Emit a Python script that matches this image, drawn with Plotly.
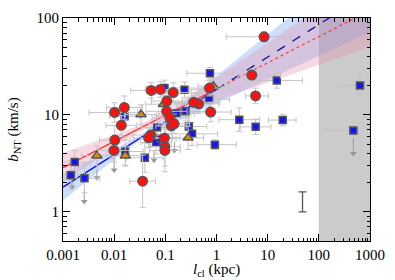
import numpy as np
import plotly.graph_objects as go

# ---------------- data ----------------
red_x = [0.0102, 0.0158, 0.0138, 0.0103, 0.0099, 0.053, 0.080, 0.143, 0.107, 0.106,
         0.123, 0.131, 0.148, 0.052, 0.047, 0.096, 0.098, 0.098, 0.036, 8.5,
         4.9, 5.8, 0.73, 0.447, 0.77, 0.359]
red_y = [10.6, 11.9, 7.8, 5.5, 4.3, 17.9, 18.3, 17.0, 13.9, 10.9,
         9.35, 7.7, 8.1, 6.2, 5.8, 5.75, 4.7, 4.3, 2.07, 64,
         25.8, 15.7, 18.9, 13.0, 10.7, 13.5]
red_xlo = [0.5, 0.35, 0.3, 0.3, 0.3, 0.4, 0.3, 0.35, 0.3, 0.4,
           0.35, 0.3, 0.3, 0.35, 0.3, 0.3, 0.3, 0.3, 0.25, 0.74,
           0.27, 0.2, 0.4, 0.4, 0.4, 0.5]
red_xhi = [0.45, 0.35, 0.3, 0.3, 0.3, 0.4, 0.3, 0.35, 0.3, 0.4,
           0.35, 0.3, 0.3, 0.35, 0.3, 0.3, 0.3, 0.3, 0.25, 0.52,
           0.56, 0.25, 0.4, 0.4, 0.4, 0.5]
red_ye = [0.1, 0.12, 0.1, 0.15, 0.12, 0.08, 0.08, 0.1, 0.1, 0.12,
          0.12, 0.12, 0.1, 0.12, 0.1, 0.15, 0.2, 0.22, 0.27, 0.05,
          0.06, 0.08, 0.08, 0.1, 0.1, 0.1]

blue_x = [0.0017, 0.00142, 0.00263, 0.0165, 0.016, 0.0398, 0.096, 0.237, 0.745, 15.1,
          0.713, 2.79, 5.82, 19.7, 637, 473, 0.333, 0.93, 0.165, 0.248,
          0.288, 0.069, 0.066, 0.081]
blue_y = [3.26, 2.39, 2.22, 4.19, 9.7, 3.62, 19.0, 18.2, 26.9, 22.7,
          14.5, 8.93, 7.53, 8.85, 20.1, 6.89, 6.38, 4.93, 10.4, 10.9,
          7.6, 7.44, 5.2, 5.7]
blue_xlo = [0.3, 0.2, 0.3, 0.35, 0.3, 0.35, 0.35, 0.4, 0.45, 0.6,
            0.4, 0.4, 0.3, 0.28, 0.38, 0.52, 0.5, 0.35, 0.35, 0.4,
            0.35, 0.3, 0.3, 0.3]
blue_xhi = [0.3, 0.2, 0.3, 0.35, 0.3, 0.35, 0.35, 0.4, 0.45, 0.5,
            0.4, 0.4, 0.3, 0.26, 0.1, 0.1, 0.5, 0.42, 0.35, 0.4,
            0.35, 0.3, 0.3, 0.3]
blue_ye = [0.12, 0.15, 0.15, 0.15, 0.1, 0.15, 0.08, 0.08, 0.06, 0.08,
           0.1, 0.12, 0.08, 0.06, 0.1, 0.05, 0.12, 0.05, 0.1, 0.1,
           0.1, 0.12, 0.12, 0.12]

tri_x = [0.0046, 0.0165, 0.0334, 0.092, 0.279, 0.865]
tri_y = [3.8, 3.8, 10.1, 12.9, 5.8, 19.8]
tri_xe = [0.3, 0.3, 0.3, 0.35, 0.3, 0.3]
tri_ye = [0.1, 0.1, 0.1, 0.12, 0.12, 0.08]

# upper-limit arrows: x, top, bottom
lim_x = [0.0026, 0.0046, 0.0100, 0.0015, 0.060, 0.15, 473]
lim_top = [1.65, 2.75, 3.6, 2.2, 4.3, 5.3, 5.8]
lim_bot = [1.28, 2.25, 2.7, 1.8, 3.4, 4.3, 4.0]

# fits (endpoints) and confidence bands
fit_x_solid = [0.001, 1.0]
fit_x_ext = [1.0, 1000.0]
red_fit_solid = [2.86, 18.5]
red_fit_ext = [18.5, 120.0]
blue_fit_solid = [1.8, 18.3]
blue_fit_ext = [18.3, 185.0]

band_x = [0.001, 0.00316, 0.01, 0.0316, 0.1, 0.316, 1, 10, 100, 1000]
red_band_lo = [2.02, 3.04, 4.56, 6.74, 9.1, 11.4, 14.1, 21.6, 33.0, 50.3]
red_band_hi = [4.06, 5.02, 6.23, 7.85, 10.9, 16.2, 24.3, 55.2, 126, 287]
blue_band_lo = [1.31, 2.14, 3.47, 5.45, 7.52, 10.0, 13.3, 23.2, 40.7, 71.2]
blue_band_hi = [2.50, 3.32, 4.42, 6.10, 9.55, 15.5, 25.3, 67.6, 181, 483]

# representative error bar
rep_x = [48]
rep_y = [1.27]
rep_plus = [0.34]
rep_minus = [0.27]

shade_x = [100, 1000]

x_tickvals = [0.001, 0.01, 0.1, 1, 10, 100, 1000]
x_ticktext = ["0.001", "0.01", "0.1", "1", "10", "100", "1000"]
y_tickvals = [1, 10, 100]
y_ticktext = ["1", "10", "100"]

x_title = "<i>l</i><sub>cl</sub> (kpc)"
y_title = "<i>b</i><sub>NT</sub> (km/s)"

# ---------------- figure ----------------
def lin_err(v, lo, hi):
    v = np.asarray(v, float)
    return v * (10 ** np.asarray(hi) - 1), v * (1 - 10 ** (-np.asarray(lo)))

fig = go.Figure()

fig.add_shape(type="rect", xref="x", yref="paper", x0=shade_x[0], x1=shade_x[1], y0=0, y1=1,
              fillcolor="#cbcbcb", line_width=0, layer="below")

def band(lo, hi, color):
    fig.add_trace(go.Scatter(x=band_x + band_x[::-1], y=hi + lo[::-1], fill="toself",
                             fillcolor=color, line=dict(width=0), mode="lines",
                             hoverinfo="skip", showlegend=False))

band(blue_band_lo, blue_band_hi, "rgba(110,160,240,0.35)")
band(red_band_lo, red_band_hi, "rgba(235,140,170,0.33)")

fig.add_trace(go.Scatter(x=fit_x_solid, y=red_fit_solid, mode="lines",
                         line=dict(color="#ff2020", width=1.2), showlegend=False))
fig.add_trace(go.Scatter(x=fit_x_ext, y=red_fit_ext, mode="lines",
                         line=dict(color="#ff3030", width=1.1, dash="dot"), showlegend=False))
fig.add_trace(go.Scatter(x=fit_x_solid, y=blue_fit_solid, mode="lines",
                         line=dict(color="#1010e0", width=1.4), showlegend=False))
fig.add_trace(go.Scatter(x=fit_x_ext, y=blue_fit_ext, mode="lines",
                         line=dict(color="#1a1a90", width=1.4, dash="dash"), showlegend=False))

# upper limit arrows
seg_x, seg_y = [], []
for x, t, b in zip(lim_x, lim_top, lim_bot):
    seg_x += [x, x, None]
    seg_y += [t, b, None]
fig.add_trace(go.Scatter(x=seg_x, y=seg_y, mode="lines",
                         line=dict(color="#999999", width=1), showlegend=False))
fig.add_trace(go.Scatter(x=lim_x, y=lim_bot, mode="markers",
                         marker=dict(symbol="triangle-down", size=6, color="#999999"),
                         showlegend=False))

ebcol = "#c4c4c4"

def points(x, y, xlo, xhi, ye, symbol, size, color):
    xp, xm = lin_err(x, xlo, xhi)
    yp, ym = lin_err(y, ye, ye)
    fig.add_trace(go.Scatter(
        x=x, y=y, mode="markers",
        marker=dict(symbol=symbol, size=size, color=color, line=dict(color="#555555", width=1.5)),
        error_x=dict(type="data", array=xp, arrayminus=xm, color=ebcol, thickness=1, width=3),
        error_y=dict(type="data", array=yp, arrayminus=ym, color=ebcol, thickness=1, width=3),
        showlegend=False))

points(blue_x, blue_y, blue_xlo, blue_xhi, blue_ye, "square", 7, "#1414f0")
points(tri_x, tri_y, tri_xe, tri_xe, tri_ye, "triangle-up", 9, "#d98c10")
points(red_x, red_y, red_xlo, red_xhi, red_ye, "circle", 9.5, "#ff1010")

fig.add_trace(go.Scatter(x=rep_x, y=rep_y, mode="markers", marker=dict(size=1, color="rgba(0,0,0,0)"),
                         error_y=dict(type="data", array=rep_plus, arrayminus=rep_minus,
                                      color="#555555", thickness=1.3, width=4),
                         showlegend=False))

font = dict(family="Liberation Serif, DejaVu Serif, serif", size=15, color="black")
axis_common = dict(type="log", showgrid=False, zeroline=False, showline=True, linecolor="black",
                   linewidth=1, mirror="allticks", ticks="inside", ticklen=7, tickcolor="black",
                   ticklabeloverflow="allow",
                   minor=dict(ticks="inside", ticklen=3.5, tickcolor="black", dtick="D1", showgrid=False))

fig.update_layout(
    width=395, height=280, margin=dict(l=63, r=18, t=10, b=39),
    paper_bgcolor="white", plot_bgcolor="white", font=font,
    xaxis=dict(axis_common, range=[-3, 3], tickvals=x_tickvals, ticktext=x_ticktext),
    yaxis=dict(axis_common, range=[np.log10(0.5), 2], tickvals=y_tickvals, ticktext=y_ticktext),
    annotations=[
        dict(text=x_title, xref="paper", yref="paper", x=0.5, y=-0.132, yanchor="middle",
             xanchor="center", showarrow=False, font=font),
        dict(text=y_title, xref="paper", yref="paper", x=-0.162, y=0.5, textangle=-90,
             xanchor="center", yanchor="middle", showarrow=False, font=font),
    ],
)

fig.write_html("out.html", config={"displayModeBar": False},
               post_script="document.body.style.margin='0';document.body.style.overflow='hidden';")
